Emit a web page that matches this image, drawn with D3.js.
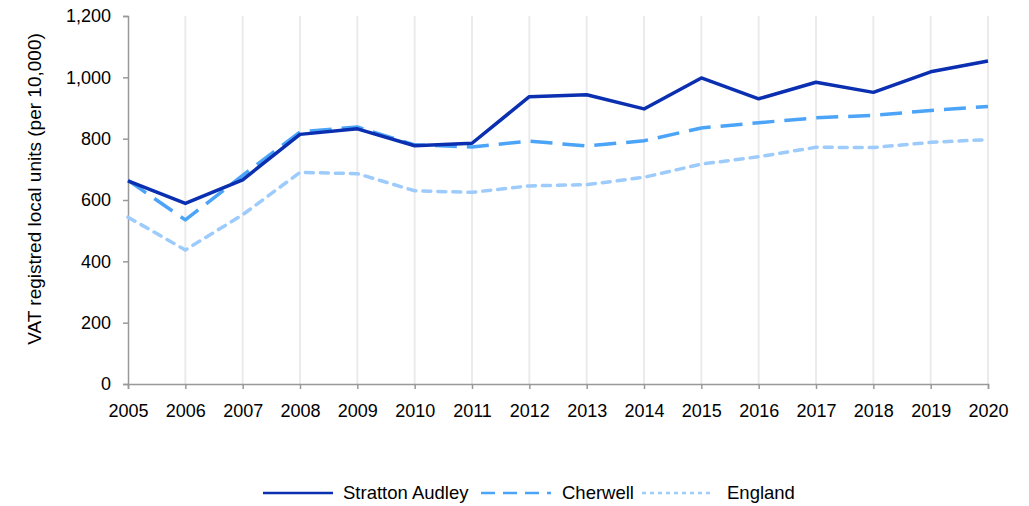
<!DOCTYPE html>
<html>
<head>
<meta charset="utf-8">
<script src="https://cdn.jsdelivr.net/npm/d3@7/dist/d3.min.js"></script>
<style>
  html, body { margin: 0; padding: 0; background: #fff; }
  svg { display: block; font-family: "Liberation Sans", Arial, sans-serif; }
</style>
</head>
<body>
<svg id="chart" width="1029" height="506"></svg>
<script>
// Years on the x axis
const years = [2005, 2006, 2007, 2008, 2009, 2010, 2011, 2012, 2013, 2014, 2015, 2016, 2017, 2018, 2019, 2020];

// VAT registered local units per 10,000
const strattonAudley = [662, 589, 666, 814, 832, 777, 785, 937, 943, 897, 998, 930, 984, 951, 1018, 1053];
const cherwell       = [664, 535, 680, 822, 838, 780, 773, 792, 776, 793, 835, 852, 868, 876, 892, 905];
const england        = [544, 437, 552, 690, 686, 630, 625, 646, 650, 674, 717, 741, 772, 771, 788, 797];

const yTicks = [0, 200, 400, 600, 800, 1000, 1200];

const seriesNames = ["Stratton Audley", "Cherwell", "England"];

const series = [
  { name: seriesNames[0], values: strattonAudley, color: "#0a2fb0", dash: null,    legendDash: null,  cap: "butt" },
  { name: seriesNames[1], values: cherwell,       color: "#4ba4f7", dash: "22,10", legendDash: "14,8", cap: "butt" },
  { name: seriesNames[2], values: england,        color: "#9dcbfb", dash: "8,7",   legendDash: "4,4", cap: "round" }
];

const FONT = 18;

const svg = d3.select("#chart");
const margin = { left: 128, right: 41, top: 16, bottom: 122 };
const W = 1029, H = 506;

const x = d3.scaleLinear()
  .domain([years[0], years[years.length - 1]])
  .range([margin.left, W - margin.right]);

const y = d3.scaleLinear()
  .domain([0, 1200])
  .range([H - margin.bottom, margin.top]);

// Vertical gridlines at each year
svg.append("g")
  .selectAll("line")
  .data(years.slice(1))
  .join("line")
  .attr("x1", d => x(d)).attr("x2", d => x(d))
  .attr("y1", y(1200)).attr("y2", y(0))
  .attr("stroke", "#ebebeb")
  .attr("stroke-width", 2);

// Y axis
const yAxis = svg.append("g")
  .attr("transform", `translate(${x(years[0])},0)`)
  .call(d3.axisLeft(y).tickValues(yTicks).tickSize(5).tickPadding(12).tickFormat(d3.format(",")));
yAxis.attr("font-size", FONT).attr("font-family", "Liberation Sans, Arial, sans-serif");
yAxis.select(".domain").attr("stroke", "#999").attr("stroke-width", 1.5);
yAxis.selectAll(".tick line").attr("stroke", "#999").attr("stroke-width", 1.5);
yAxis.selectAll("text").attr("fill", "#000");

// X axis
const xAxis = svg.append("g")
  .attr("transform", `translate(0,${y(0)})`)
  .call(d3.axisBottom(x).tickValues(years).tickSize(5).tickPadding(15).tickFormat(d3.format("d")));
xAxis.attr("font-size", FONT).attr("font-family", "Liberation Sans, Arial, sans-serif");
xAxis.select(".domain").attr("stroke", "#999").attr("stroke-width", 1.5);
xAxis.selectAll(".tick line").attr("stroke", "#999").attr("stroke-width", 1.5);
xAxis.selectAll("text").attr("fill", "#000");

// Y axis title
svg.append("text")
  .attr("transform", `translate(34,189) rotate(-90)`)
  .attr("text-anchor", "middle")
  .attr("dominant-baseline", "central")
  .attr("font-size", 19)
  .attr("fill", "#000")
  .text("VAT registred local units (per 10,000)");

// Lines, drawn back to front
const line = d3.line()
  .x((d, i) => x(years[i]))
  .y(d => y(d));

[...series].reverse().forEach(s => {
  svg.append("path")
    .datum(s.values)
    .attr("d", line)
    .attr("fill", "none")
    .attr("stroke", s.color)
    .attr("stroke-width", 3.5)
    .attr("stroke-linejoin", "round")
    .attr("stroke-linecap", s.cap)
    .attr("stroke-dasharray", s.dash);
});

// Legend
const legendItems = [
  { s: series[0], x0: 263, x1: 333, tx: 343 },
  { s: series[1], x0: 481, x1: 551, tx: 562 },
  { s: series[2], x0: 642, x1: 714, tx: 727 }
];
const legend = svg.append("g");
const ly = 493;
legendItems.forEach(it => {
  legend.append("line")
    .attr("x1", it.x0).attr("x2", it.x1)
    .attr("y1", ly).attr("y2", ly)
    .attr("stroke", it.s.color)
    .attr("stroke-width", 2.5)
    .attr("stroke-dasharray", it.s.legendDash);
  legend.append("text")
    .attr("x", it.tx).attr("y", ly + 6)
    .attr("font-size", 18.5)
    .attr("fill", "#000")
    .text(it.s.name);
});
</script>
</body>
</html>
